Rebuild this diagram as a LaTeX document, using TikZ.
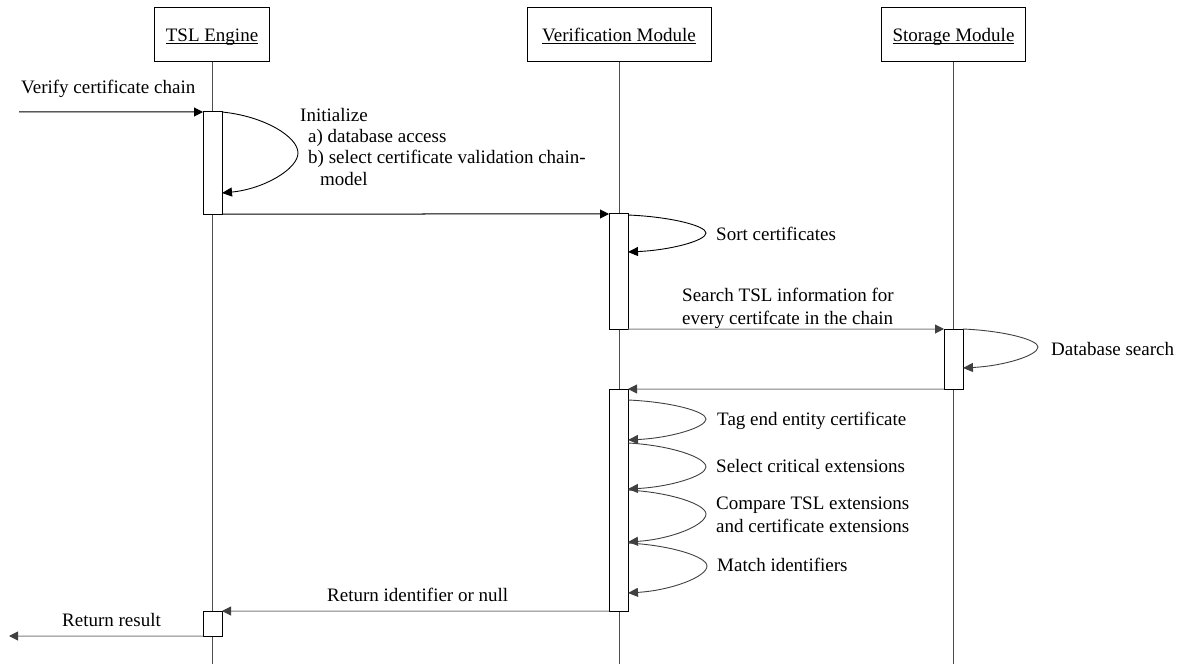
\documentclass[tikz,border=0pt]{standalone}
\usepackage{fontspec}
\setmainfont{Liberation Serif}
\usetikzlibrary{arrows.meta,calc}

\definecolor{lifeln}{HTML}{4D4D4D}
\definecolor{msggray}{HTML}{808080}
\definecolor{tipgray}{HTML}{404040}

% underlined header caption, rule close to the baseline
\newcommand\hdrtext[1]{\setbox0\hbox{#1}\rlap{\rule[-2.2bp]{\wd0}{0.9bp}}\box0}

% self call on an activation bar; offsets measured from the bar's top right corner
% #1 style, #2 bar, #3 start dy, #4 apex dx, #5 apex dy, #6 end dy
\newcommand\selfcall[6]{%
  \draw[#1] ($(#2.north east)+(0,{#3})$)
    .. controls ($(#2.north east)+({0.55*#4},{#3+0.1*(#5-#3)})$) and ($(#2.north east)+({#4},{#3+0.6*(#5-#3)})$)
    .. ($(#2.north east)+({#4},{#5})$)
    .. controls ($(#2.north east)+({#4},{#5+0.4*(#6-#5)})$) and ($(#2.north east)+({0.55*#4},{#6-0.1*(#6-#5)})$)
    .. ($(#2.north east)+(0,{#6})$);}

\begin{document}
\begin{tikzpicture}[x=1bp,y=-1bp,
  font=\fontsize{19bp}{22bp}\selectfont,
  hdr/.style={draw, line width=1bp, minimum height=54bp, text depth=0pt, inner sep=0pt, outer sep=0pt},
  life/.style={draw=lifeln, line width=1bp},
  act/.style={draw, fill=white, line width=1bp, minimum width=19bp, inner sep=0pt, outer sep=0pt},
  msgblack/.style={draw=black, line width=1bp, -{Triangle[length=9bp,width=9bp]}},
  msggrey/.style={draw=msggray, line width=1bp, -{Triangle[length=9bp,width=9bp,color=tipgray]}},
  selfblack/.style={draw=black, line width=0.9bp, -{Triangle[length=10bp,width=9bp]}},
  selfgrey/.style={draw=tipgray, line width=0.9bp, -{Triangle[length=10bp,width=9bp]}},
  lbl/.style={anchor=base west, inner sep=0pt}
]
\useasboundingbox (0,0) rectangle (1178,664);

% participants
\node[hdr, minimum width=115bp] (te) at (212,35) {\hdrtext{TSL Engine}};
\node[hdr, minimum width=184bp] (vm) at (619,35) {\hdrtext{Verification Module}};
\node[hdr, minimum width=144bp] (sm) at (953.5,35) {\hdrtext{Storage Module}};

% lifelines
\draw[life] (te.south) -- (te.south |- 0,664);
\draw[life] (vm.south) -- (vm.south |- 0,664);
\draw[life] (sm.south) -- (sm.south |- 0,664);

% activation bars
\node[act, minimum height=102bp] (a1) at (212.5,163) {};
\node[act, minimum height=115bp] (a2) at (618.5,271.5) {};
\node[act, minimum height=60bp]  (a3) at (953.5,359) {};
\node[act, minimum height=222bp] (a4) at (618.5,500) {};
\node[act, minimum height=25bp]  (a5) at (212.5,623.5) {};

\coordinate (in) at (19,112);
\coordinate (out) at (9,636);

% messages
\draw[msgblack] (in) -- (a1.north west);
\draw[msgblack] (a1.south east) -- (a2.north west);
\draw[msggrey] (a2.south east) -- (a3.north west);
\draw[msggrey] (a3.south west) -- (a4.north east);
\draw[msggrey] (a4.south west) -- (a5.north east);
\draw[msggrey] (a5.south west) -- (out);

% self calls
\selfcall{selfblack}{a1}{0}{76}{41}{81}
\selfcall{selfblack}{a2}{1}{78}{19}{38}
\selfcall{selfgrey}{a3}{0}{75}{18}{39}
\selfcall{selfgrey}{a4}{11}{78}{30}{51}
\selfcall{selfgrey}{a4}{54}{78}{78}{100}
\selfcall{selfgrey}{a4}{101}{78}{125}{153}
\selfcall{selfgrey}{a4}{154}{79}{177}{204}

% labels
\node[lbl] (l0) at (21,94) {Verify certificate chain};
\node[lbl] (l1a) at (300,122) {Initialize};
\node[lbl] (l1b) at (308,143) {a) database access};
\node[lbl] (l1c) at (308,164) {b) select certificate validation chain-};
\node[lbl] (l1d) at (320,186) {model};
\node[lbl] (l2) at (716,240) {Sort certificates};
\node[lbl] (l3a) at (682,301) {Search TSL information for};
\node[lbl] (l3b) at (682,324) {every certifcate in the chain};
\node[lbl] (l4) at (1051,355) {Database search};
\node[lbl] (l5) at (717,425) {Tag end entity certificate};
\node[lbl] (l6) at (716,472) {Select critical extensions};
\node[lbl] (l7a) at (716,509) {Compare TSL extensions};
\node[lbl] (l7b) at (716,532) {and certificate extensions};
\node[lbl] (l8) at (717,571) {Match identifiers};
\node[lbl] (l9) at (327,601) {Return identifier or null};
\node[lbl] (l10) at (62,626) {Return result};
\end{tikzpicture}
\end{document}
